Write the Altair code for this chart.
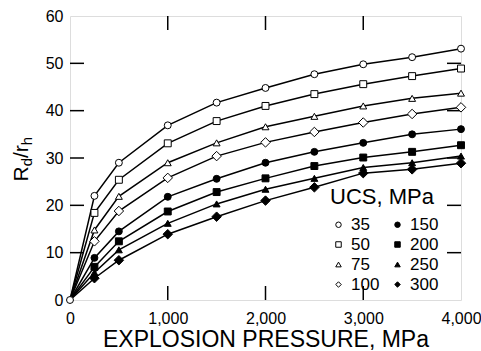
import altair as alt
import pandas as pd

# ---- data ----
pressure = [0, 250, 500, 1000, 1500, 2000, 2500, 3000, 3500, 4000]
ucs_35 = [0, 22.0, 29.0, 36.9, 41.7, 44.8, 47.7, 49.8, 51.3, 53.1]
ucs_50 = [0, 18.4, 25.4, 33.1, 37.8, 41.0, 43.5, 45.6, 47.3, 48.9]
ucs_75 = [0, 14.8, 21.9, 29.0, 33.2, 36.6, 38.8, 41.0, 42.6, 43.7]
ucs_100 = [0, 12.4, 18.8, 25.8, 30.4, 33.3, 35.5, 37.5, 39.3, 40.7]
ucs_150 = [0, 8.9, 14.5, 21.8, 25.6, 29.0, 31.3, 33.2, 35.0, 36.1]
ucs_200 = [0, 7.0, 12.4, 18.7, 22.8, 25.7, 28.3, 30.1, 31.3, 32.7]
ucs_250 = [0, 5.8, 10.6, 16.2, 20.3, 23.4, 25.7, 28.0, 29.0, 30.4]
ucs_300 = [0, 4.6, 8.4, 13.9, 17.6, 21.0, 23.8, 26.8, 27.6, 28.9]

series = {"35": ucs_35, "50": ucs_50, "75": ucs_75, "100": ucs_100,
          "150": ucs_150, "200": ucs_200, "250": ucs_250, "300": ucs_300}

ucs_order = ["35", "50", "75", "100", "150", "200", "250", "300"]
ucs_shapes = ["circle", "square", "triangle-up", "diamond",
              "circle", "square", "triangle-up", "diamond"]
ucs_fills = ["white", "white", "white", "white",
             "black", "black", "black", "black"]
diamond_series = ["100", "300"]

x_ticks = [1000, 2000, 3000]
y_ticks = [10, 20, 30, 40, 50]

rows = []
for k, vals in series.items():
    for p, v in zip(pressure, vals):
        rows.append({"UCS": k, "P": p, "R": v})
df = pd.DataFrame(rows)
pts = df[(df["P"] > 0) | (df["UCS"] == "35")]
pts_d = pts[pts["UCS"].isin(diamond_series)]
pts_o = pts[~pts["UCS"].isin(diamond_series)]

W, H = 391, 284
FONT = "Liberation Sans"
TL = 14

xs = alt.Scale(domain=[0, 4000], nice=False)
ys = alt.Scale(domain=[0, 60], nice=False)

legend = alt.Legend(
    title="UCS, MPa", orient="none", legendX=260, legendY=171, columns=2,
    titleFontSize=22, titleFont=FONT, titleFontWeight="normal", titleColor="black",
    labelFontSize=17, labelFont=FONT, labelColor="black",
    symbolSize=30, symbolStrokeWidth=1,
    labelOffset=4, columnPadding=9, rowPadding=2, titlePadding=7, padding=0,
)

lines = alt.Chart(df).mark_line(color="black", strokeWidth=1.5).encode(
    x=alt.X("P:Q", scale=xs, axis=alt.Axis(
        title="EXPLOSION PRESSURE, MPa", values=[0, 1000, 2000, 3000, 4000],
        format=",.0f", labelFontSize=16, labelPadding=10, titleFontSize=23,
        titlePadding=2, titleFontWeight="normal", ticks=False, tickSize=0,
        domain=False, grid=False, labelFlush=False)),
    y=alt.Y("R:Q", scale=ys, axis=alt.Axis(
        title=None, values=[0, 10, 20, 30, 40, 50, 60], labelFontSize=16,
        labelPadding=7, ticks=False, tickSize=0, domain=False, grid=False)),
    detail="UCS:N",
)

def point_layer(data, size):
    return alt.Chart(data).mark_point(filled=True, strokeWidth=1, opacity=1,
                                      size=size).encode(
        x=alt.X("P:Q", scale=xs),
        y=alt.Y("R:Q", scale=ys),
        shape=alt.Shape("UCS:N", scale=alt.Scale(domain=ucs_order, range=ucs_shapes),
                        legend=legend),
        fill=alt.Fill("UCS:N", scale=alt.Scale(domain=ucs_order, range=ucs_fills),
                      legend=legend),
        stroke=alt.Stroke("UCS:N", scale=alt.Scale(domain=ucs_order, range=["black"] * 8),
                          legend=legend),
    )

points_o = point_layer(pts_o, 48)
points_d = point_layer(pts_d, 90)

ydf = pd.DataFrame({"v": y_ticks})
xdf = pd.DataFrame({"v": x_ticks})
left_t = alt.Chart(ydf).mark_rule(color="black", strokeWidth=1.5).encode(
    y=alt.Y("v:Q", scale=ys), x=alt.value(0), x2=alt.value(TL))
right_t = alt.Chart(ydf).mark_rule(color="black", strokeWidth=1.5).encode(
    y=alt.Y("v:Q", scale=ys), x=alt.value(W - TL), x2=alt.value(W))
top_t = alt.Chart(xdf).mark_rule(color="black", strokeWidth=1.5).encode(
    x=alt.X("v:Q", scale=xs), y=alt.value(0), y2=alt.value(TL))
bot_t = alt.Chart(xdf).mark_rule(color="black", strokeWidth=1.5).encode(
    x=alt.X("v:Q", scale=xs), y=alt.value(H - TL), y2=alt.value(H))

def ytxt(t, size, x, y):
    return alt.Chart().mark_text(text=t, fontSize=size, font=FONT, angle=270,
                                 align="left", baseline="alphabetic",
                                 color="black").encode(x=alt.value(x), y=alt.value(y))

ytitle = [ytxt("R", 21, -42, 165.5), ytxt("d", 15, -38, 150.3),
          ytxt("/", 21, -42, 142), ytxt("r", 21, -42, 136.2),
          ytxt("h", 15, -38, 129.2)]

chart = alt.layer(left_t, right_t, top_t, bot_t, lines, points_o, points_d,
                  *ytitle).properties(
    width=W, height=H,
    autosize=alt.AutoSizeParams(type="none"),
    padding={"left": 70, "top": 16, "right": 20, "bottom": 51},
).configure_view(stroke="black", strokeWidth=2).configure(
    font=FONT
).configure_axis(labelColor="black", titleColor="black", labelFont=FONT, titleFont=FONT)

chart.save("out.html", embed_options={"renderer": "svg", "actions": False})
